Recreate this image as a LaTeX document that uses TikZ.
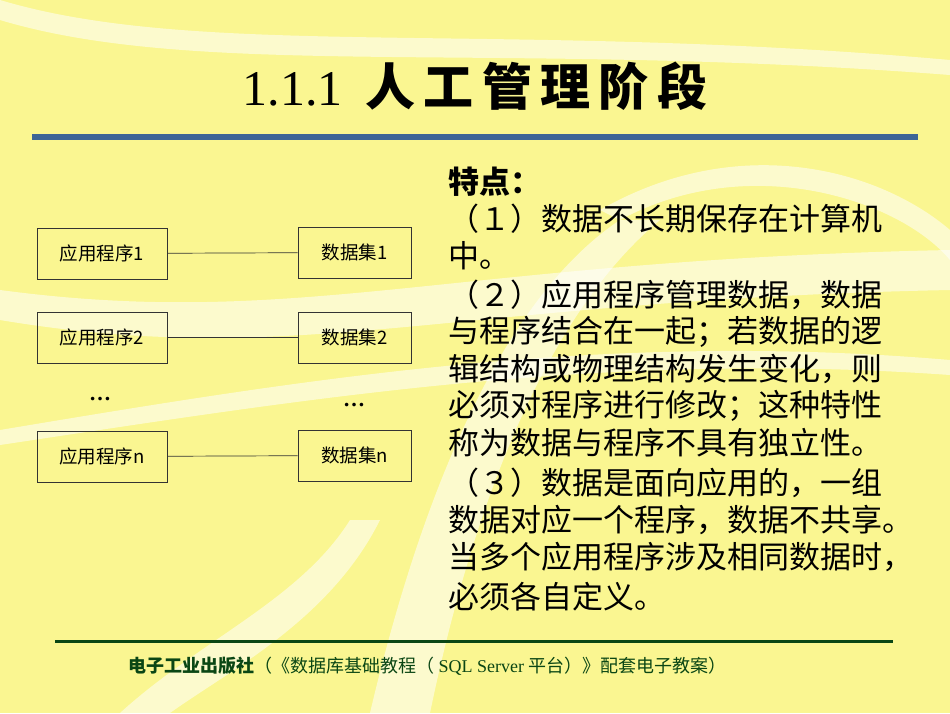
\documentclass[tikz,border=0pt]{standalone}
\usepackage{fontspec}
\newfontfamily\cjk{Noto Sans CJK SC}
\setmainfont{Liberation Serif}
\definecolor{bg}{RGB}{250,246,145}
\definecolor{bar}{RGB}{60,100,150}
\definecolor{dgreen}{RGB}{10,70,20}
\tikzset{box/.style={draw=black!80,line width=0.8pt,fill=none,minimum height=51pt,inner sep=0pt,font=\cjk\fontsize{18.5}{18.5}\selectfont},
body/.style={anchor=west,inner sep=0pt,font=\cjk\fontsize{31}{31}\selectfont},
swoosh/.style={white,opacity=0.55}}
\begin{document}
\begin{tikzpicture}[x=1pt,y=-1pt]
\fill[bg] (0,0) rectangle (950,713);
% white swooshes
\fill[swoosh] (0,290) .. controls (300,330) and (450,260) .. (950,250) -- (950,290) .. controls (450,300) and (300,370) .. (0,320) -- cycle;
\fill[swoosh] (0,430) .. controls (300,380) and (600,330) .. (950,360) -- (950,375) .. controls (600,350) and (300,400) .. (0,445) -- cycle;
\fill[swoosh] (370,713) .. controls (420,500) and (500,300) .. (620,220) -- (660,220) .. controls (540,320) and (470,520) .. (430,713) -- cycle;
\fill[swoosh] (620,220) .. controls (750,150) and (900,200) .. (950,260) -- (950,230) .. controls (880,170) and (740,130) .. (600,210) -- cycle;
\fill[swoosh] (0,0) .. controls (200,60) and (500,20) .. (950,60) -- (950,75) .. controls (500,40) and (200,80) .. (0,20) -- cycle;
\fill[swoosh] (120,713) .. controls (200,640) and (300,600) .. (350,520) -- (380,520) .. controls (330,620) and (230,670) .. (170,713) -- cycle;
% title
\node (title) at (475,86) {\fontsize{50}{50}\selectfont 1.1.1\hspace{0.45em}{\cjk\bfseries 人\,工\,管\,理\,阶\,段}};
\draw[bar,line width=6pt] (32,137) -- (918,137);
% diagram
\node[box,minimum width=130pt] (a1) at (102,253.5) {应用程序1};
\node[box,minimum width=130pt] (a2) at (102,337.5) {应用程序2};
\node[box,minimum width=130pt] (an) at (102,456.5) {应用程序n};
\node[box,minimum width=113pt] (d1) at (354.5,252.5) {数据集1};
\node[box,minimum width=113pt] (d2) at (354.5,337.5) {数据集2};
\node[box,minimum width=113pt] (dn) at (354.5,455.5) {数据集n};
\node (dotsa) at (100,399) {\fontsize{22}{22}\selectfont\bfseries …};
\node (dotsd) at (354,405) {\fontsize{22}{22}\selectfont\bfseries …};
\draw[black!80,line width=0.7pt] (a1) -- (d1);
\draw[black!80,line width=0.7pt] (a2) -- (d2);
\draw[black!80,line width=0.7pt] (an) -- (dn);
% body text
\node[body] (t0) at (448,182) {\bfseries 特点：};
\node[body] (t1) at (448,219) {（１）数据不长期保存在计算机};
\node[body] (t2) at (448,256) {中。};
\node[body] (t3) at (448,295) {（２）应用程序管理数据，数据};
\node[body] (t4) at (448,332) {与程序结合在一起；若数据的逻};
\node[body] (t5) at (448,369) {辑结构或物理结构发生变化，则};
\node[body] (t6) at (448,406) {必须对程序进行修改；这种特性};
\node[body] (t7) at (448,443) {称为数据与程序不具有独立性。};
\node[body] (t8) at (448,483) {（３）数据是面向应用的，一组};
\node[body] (t9) at (448,520) {数据对应一个程序，数据不共享。};
\node[body] (t10) at (448,557) {当多个应用程序涉及相同数据时，};
\node[body] (t11) at (448,597) {必须各自定义。};
% footer
\draw[dgreen,line width=3pt] (55,641) -- (893,641);
\node[anchor=west,inner sep=0pt,text=dgreen] (foot) at (128,666) {\fontsize{18}{18}\selectfont{\cjk\bfseries 电子工业出版社}{\cjk （《数据库基础教程（} SQL Server {\cjk 平台）》配套电子教案）}};
\end{tikzpicture}
\end{document}
